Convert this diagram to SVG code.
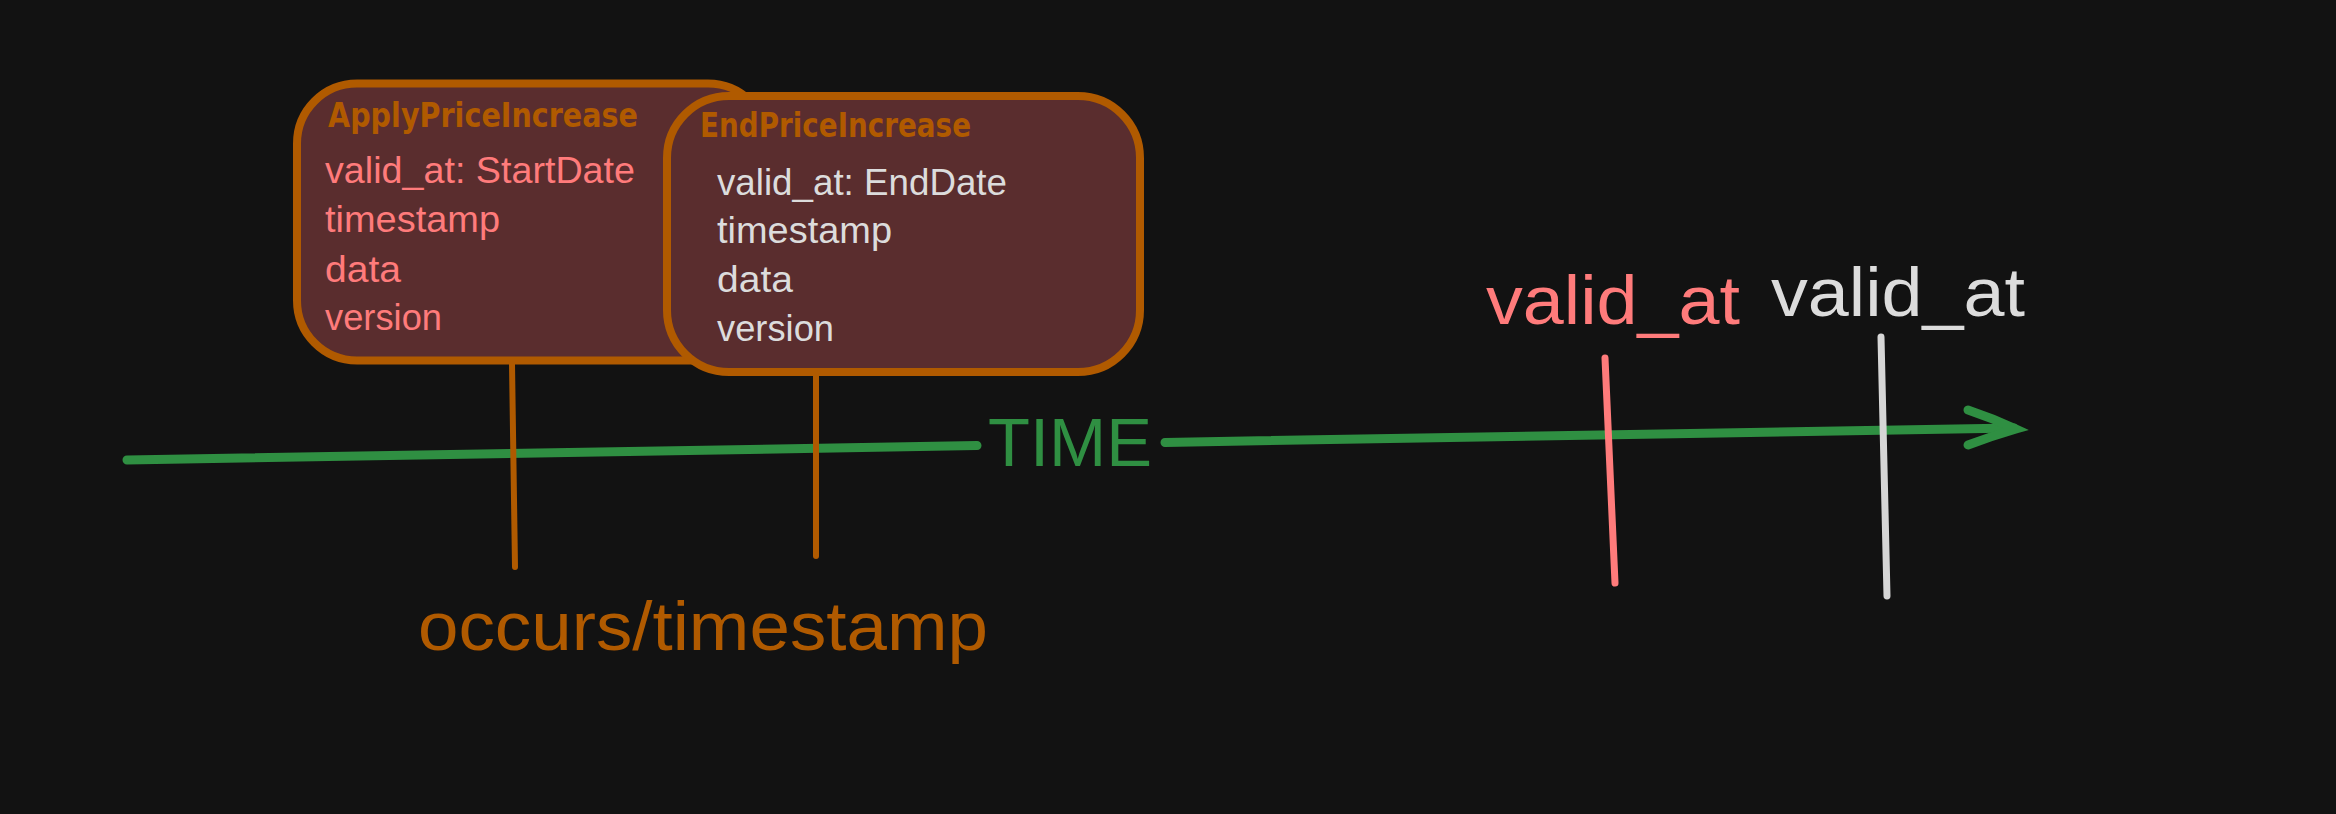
<svg xmlns="http://www.w3.org/2000/svg" width="2336" height="814" viewBox="0 0 2336 814">
<style>
.box{fill:#5a2d2e;stroke:#b05a00;stroke-width:8;stroke-linejoin:round}
.title{font-family:"DejaVu Sans","Liberation Sans",sans-serif;font-weight:bold;font-size:34px;fill:#b05a00}
.body{font-family:"Liberation Sans",Arial,sans-serif;font-size:37px}
.red{fill:#ff7b7b}
.gray{fill:#dcdcdc}
.big{font-family:"Liberation Sans",Arial,sans-serif;font-size:68px}
.tick{fill:none;stroke-linecap:round}
</style>
<rect width="2336" height="814" fill="#121212"/>
<g id="connectors">
  <path class="tick" d="M127,460 L977,445.6 M1165,442.4 L2014,428" stroke="#2f8f42" stroke-width="9"/>
  <path class="tick" d="M1968,410 Q1992,418 2016,429 Q1992,436 1968,445" stroke="#2f8f42" stroke-width="9"/>
  <path class="tick" d="M512,364 L515,567" stroke="#b05a00" stroke-width="6"/>
  <path class="tick" d="M816,376 L816,556" stroke="#b05a00" stroke-width="6"/>
  <path class="tick" d="M1605,358 L1615,583" stroke="#ff7b7b" stroke-width="7"/>
  <path class="tick" d="M1881,337 L1887,596" stroke="#d6d6d6" stroke-width="7"/>
</g>
<g id="time-label">
  <text class="big" x="988" y="466" fill="#2f8f42" textLength="164" lengthAdjust="spacingAndGlyphs">TIME</text>
</g>
<g id="apply-price-increase">
  <rect class="box" x="297" y="83.5" width="471" height="277" rx="60"/>
  <text class="title" x="328" y="127" textLength="310" lengthAdjust="spacingAndGlyphs">ApplyPriceIncrease</text>
  <text class="body red" x="325" y="183" textLength="310" lengthAdjust="spacingAndGlyphs">valid_at: StartDate</text>
  <text class="body red" x="325" y="232" textLength="175" lengthAdjust="spacingAndGlyphs">timestamp</text>
  <text class="body red" x="325" y="282" textLength="76" lengthAdjust="spacingAndGlyphs">data</text>
  <text class="body red" x="325" y="330" textLength="117" lengthAdjust="spacingAndGlyphs">version</text>
</g>
<g id="end-price-increase">
  <rect class="box" x="667" y="96" width="473" height="276" rx="62"/>
  <text class="title" x="700" y="137" textLength="271" lengthAdjust="spacingAndGlyphs">EndPriceIncrease</text>
  <text class="body gray" x="717" y="195" textLength="290" lengthAdjust="spacingAndGlyphs">valid_at: EndDate</text>
  <text class="body gray" x="717" y="243" textLength="175" lengthAdjust="spacingAndGlyphs">timestamp</text>
  <text class="body gray" x="717" y="292" textLength="76" lengthAdjust="spacingAndGlyphs">data</text>
  <text class="body gray" x="717" y="341" textLength="117" lengthAdjust="spacingAndGlyphs">version</text>
</g>
<g id="valid-at-start">
  <text class="big red" x="1486" y="324" textLength="254" lengthAdjust="spacingAndGlyphs">valid_at</text>
</g>
<g id="valid-at-end">
  <text class="big" x="1771" y="316" fill="#dcdcdc" textLength="254" lengthAdjust="spacingAndGlyphs">valid_at</text>
</g>
<g id="occurs-label">
  <text class="big" x="418" y="650" fill="#b05a00" textLength="570" lengthAdjust="spacingAndGlyphs">occurs/timestamp</text>
</g>
</svg>
